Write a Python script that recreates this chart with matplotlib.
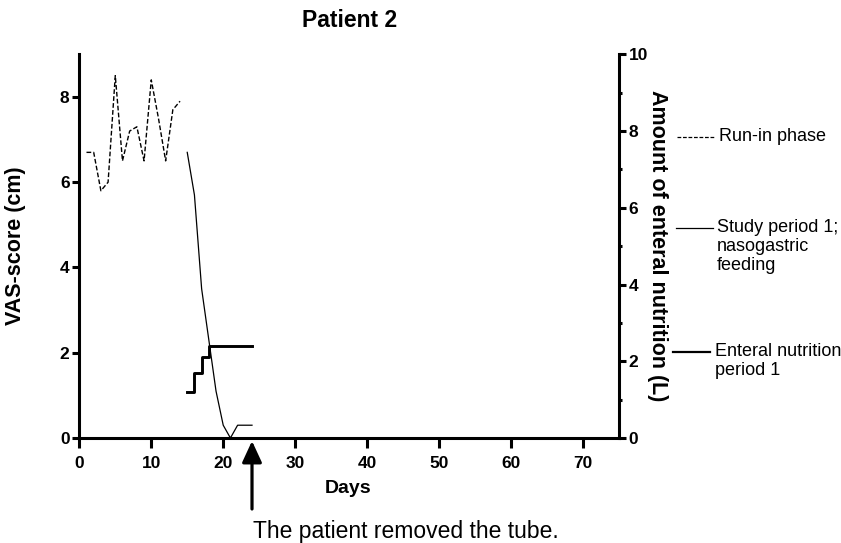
import matplotlib
matplotlib.use("Agg")
import matplotlib.pyplot as plt
from matplotlib.lines import Line2D

plt.rcParams['font.family'] = ['Liberation Sans', 'DejaVu Sans']

# ---- data ----
runin_days = [1, 2, 3, 4, 5, 6, 7, 8, 9, 10, 11, 12, 13, 14]
runin_vas = [6.7, 6.7, 5.8, 6.0, 8.5, 6.5, 7.2, 7.3, 6.5, 8.4, 7.5, 6.5, 7.7, 7.9]
study_days = [15, 16, 17, 18, 19, 20, 21, 22, 23, 24]
study_vas = [6.7, 5.7, 3.5, 2.3, 1.1, 0.3, 0.0, 0.3, 0.3, 0.3]
enteral_days = [15, 16, 17, 18, 24]
enteral_litres = [1.2, 1.7, 2.1, 2.4, 2.4]
x_ticks = [0, 10, 20, 30, 40, 50, 60, 70]
vas_ticks = [0, 2, 4, 6, 8]
enteral_ticks = [0, 2, 4, 6, 8, 10]
enteral_minor = [1, 3, 5, 7, 9]
tube_removed_day = 24

W, H = 841, 543
fig = plt.figure(figsize=(W / 100, H / 100), dpi=100)
ax = fig.add_axes([79.3 / W, 1 - 438 / H, (619 - 79.3) / W, (438 - 54.3) / H])
ax2 = ax.twinx()

spine_lw = 2.2
for a in (ax, ax2):
    a.spines['top'].set_visible(False)
    for s in ('left', 'right', 'bottom'):
        a.spines[s].set_linewidth(spine_lw)
ax.spines['right'].set_visible(False)
ax2.spines['left'].set_visible(False)
ax2.spines['bottom'].set_visible(False)

ax.plot(runin_days, runin_vas, color='black', lw=1.0, dashes=(3.4, 1.6))
ax.plot(study_days, study_vas, color='black', lw=0.9)
ax2.plot(enteral_days, enteral_litres, color='black', lw=2.1, drawstyle='steps-post')

ax.set_xlim(0, 75)
ax.set_ylim(0, 9)
ax2.set_ylim(0, 10)
ax.set_xticks(x_ticks)
ax.set_yticks(vas_ticks)
ax2.set_yticks(enteral_ticks)
ax2.set_yticks(enteral_minor, minor=True)

tick_font = dict(fontsize=12.5, fontweight='bold')
ax.set_xticklabels([str(v) for v in x_ticks], **tick_font)
ax.set_yticklabels([str(v) for v in vas_ticks], **tick_font)
ax2.set_yticklabels([str(v) for v in enteral_ticks], **tick_font)

ax.tick_params(axis='x', direction='out', length=7, width=spine_lw, pad=6)
ax.tick_params(axis='y', direction='out', length=5, width=spine_lw, pad=2)
ax2.tick_params(axis='y', which='major', direction='out', length=5, width=spine_lw, pad=2)
ax2.tick_params(axis='y', which='minor', direction='out', length=2.5, width=spine_lw)

# axis labels
ax.set_ylabel('VAS-score (cm)', fontsize=15.5, fontweight='bold')
ax.yaxis.label.set_va('center')
ax.yaxis.set_label_coords((16 - 79.3) / 539.7, 0.5)

ax2.set_ylabel('Amount of enteral nutrition (L)', fontsize=15.5, fontweight='bold',
               rotation=270)
ax2.yaxis.label.set_va('center')
ax2.yaxis.set_label_coords((657.5 - 79.3) / 539.7, 0.5)

ax.set_xlabel('Days', fontsize=14, fontweight='bold')
ax.xaxis.label.set_va('baseline')
ax.xaxis.set_label_coords((348.3 - 79.3) / 539.7, -(493.3 - 438) / 383.7)

ax.text(0.5, (438 - 26.7) / 383.7, 'Patient 2', transform=ax.transAxes,
        ha='center', va='baseline', fontsize=16.5, fontweight='bold')

# arrow: tube removed
ax.annotate('', xy=(tube_removed_day, -3 / 383.7), xytext=(tube_removed_day, -71 / 383.7),
            xycoords=ax.get_xaxis_transform(), textcoords=ax.get_xaxis_transform(),
            arrowprops=dict(arrowstyle='-|>,head_width=0.6,head_length=1.3',
                            lw=2.3, color='black', shrinkA=0, shrinkB=0),
            annotation_clip=False)
fig.text(253 / W, 1 - 538.3 / H, 'The patient removed the tube.', ha='left',
         va='baseline', fontsize=16.5)

# legend (manual)
def legend_line(x0, x1, y, **kw):
    fig.add_artist(Line2D([x0 / W, x1 / W], [1 - y / H, 1 - y / H],
                          transform=fig.transFigure, color='black', **kw))

legend_line(677, 715, 136.7, lw=0.9, dashes=(3, 1.4))
fig.text(719 / W, 1 - 136.7 / H, 'Run-in phase', ha='left', va='center', fontsize=13)

legend_line(676, 713, 227.5, lw=0.9)
fig.text(717 / W, 1 - 219 / H, 'Study period 1;\nnasogastric\nfeeding', ha='left',
         va='top', fontsize=13, linespacing=1.15)

legend_line(673, 710, 351.7, lw=1.6)
fig.text(715 / W, 1 - 343 / H, 'Enteral nutrition\nperiod 1', ha='left', va='top',
         fontsize=13, linespacing=1.15)

fig.savefig('out.png', dpi=100)
